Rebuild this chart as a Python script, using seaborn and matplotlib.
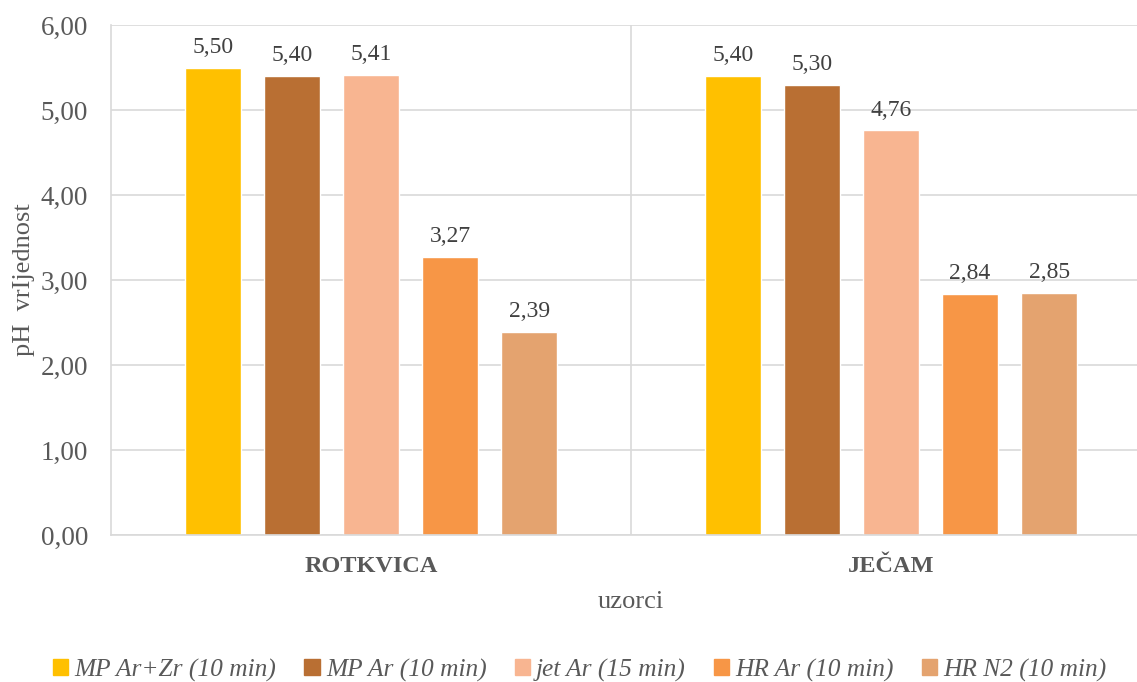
import pandas as pd
import numpy as np
import matplotlib
matplotlib.use("Agg")
import matplotlib.pyplot as plt
import seaborn as sns

# Data
categories = ["ROTKVICA", "JEČAM"]
series = ["MP Ar+Zr (10 min)", "MP Ar (10 min)", "jet Ar (15 min)", "HR Ar (10 min)", "HR N2 (10 min)"]
rotkvica = [5.50, 5.40, 5.41, 3.27, 2.39]
jecam = [5.40, 5.30, 4.76, 2.84, 2.85]
colors = ["#FFC000", "#B96F33", "#F8B591", "#F79646", "#E4A36F"]
yticks = [0, 1, 2, 3, 4, 5, 6]

df = pd.DataFrame({
    "uzorak": [categories[0]] * len(series) + [categories[1]] * len(series),
    "serija": series + series,
    "ph": rotkvica + jecam,
})

sns.set_theme(style="white")
plt.rcParams["font.family"] = ["Liberation Serif", "DejaVu Serif"]

fig = plt.figure(figsize=(11.37, 6.82), dpi=100)
ax = fig.add_axes([111 / 1137, 147 / 682, 1040 / 1137, 510 / 682])

sns.barplot(data=df, x="uzorak", y="ph", hue="serija", palette=colors,
            width=0.76, gap=0.3, ax=ax, legend=False, saturation=1)

ax.set_xlim(-0.5, 1.5)
ax.set_ylim(0, 6)
ax.set_yticks(yticks)
ax.set_yticklabels([f"{v:.2f}".replace(".", ",") for v in yticks],
                   fontsize=19.5, color="#595959")
ax.yaxis.grid(True, color="#d9d9d9", linewidth=1.2)
ax.set_axisbelow(True)
ax.tick_params(axis="y", length=0, pad=16.5)
ax.tick_params(axis="x", length=0, pad=15)
for lbl in ax.get_xticklabels():
    lbl.set_fontweight("bold")
    lbl.set_fontsize(17.5)
    lbl.set_color("#595959")

for s in ["top", "right"]:
    ax.spines[s].set_visible(False)
ax.spines["left"].set_color("#d9d9d9")
ax.spines["bottom"].set_color("#d9d9d9")
ax.spines["left"].set_linewidth(1.2)
ax.spines["bottom"].set_linewidth(1.2)
ax.axvline(0.5, color="#d9d9d9", linewidth=1.2)

for cont in ax.containers:
    ax.bar_label(cont, labels=[f"{b.get_height():.2f}".replace(".", ",") for b in cont],
                 padding=7, fontsize=17, color="#404040")

ax.set_xlabel("uzorci", fontsize=19, color="#595959", labelpad=10)
ax.set_ylabel("pH  vrIjednost", fontsize=19, color="#595959", labelpad=4)

handles = [plt.Rectangle((0, 0), 1, 1, color=c) for c in colors]
leg = fig.legend(handles, series, loc="center", bbox_to_anchor=(0.51, 12 / 682),
                 ncol=5, frameon=False, handlelength=0.6, handleheight=0.6,
                 handletextpad=0.25, columnspacing=1.1,
                 prop={"style": "italic", "size": 18.3})
for t in leg.get_texts():
    t.set_color("#595959")

fig.savefig("out.png", dpi=100)
